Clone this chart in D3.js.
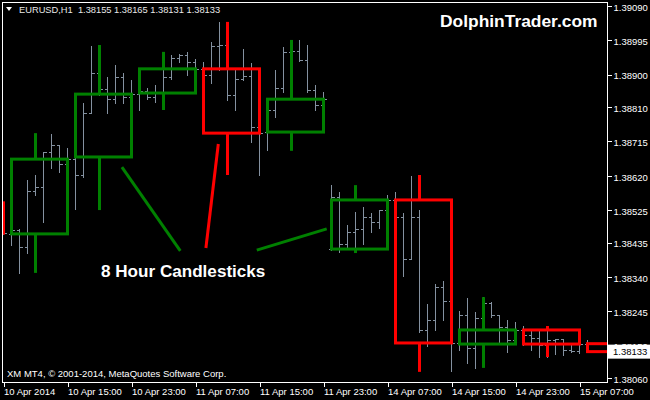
<!DOCTYPE html>
<html><head><meta charset="utf-8">
<script src="https://cdn.jsdelivr.net/npm/d3@7"></script>
<style>body{margin:0;background:#000;overflow:hidden;} svg{display:block;}</style>
</head><body>
<svg id="chart" width="650" height="400"></svg>
<script>
// ---------- DATA ----------
const symbolTitle = "EURUSD,H1";
const lastQuote = ["1.38155", "1.38165", "1.38131", "1.38133"];
const currentPrice = 1.38133;
const siteName = "DolphinTrader.com";
const annotationText = "8 Hour Candlesticks";
const copyrightText = "XM MT4, \u00A9 2001-2014, MetaQuotes Software Corp.";

// hourly bars (bar index 0..73)
const barOpen = [1.38511,1.38459,1.38470,1.38423,1.38578,1.38589,1.38686,1.38705,1.38653,1.38666,
  1.38622,1.38794,1.38905,1.38860,1.38832,1.38893,1.38838,1.38846,1.38855,1.38838,
  1.38849,1.38893,1.38946,1.38954,1.38935,1.38916,1.38899,1.38979,1.38982,1.38844,
  1.38888,1.38896,1.38755,1.38741,1.38802,1.38863,1.38963,1.38965,1.38941,1.38857,
  1.38816,1.38417,1.38561,1.38431,1.38464,1.38473,1.38506,1.38492,1.38525,1.38553,
  1.38506,1.38389,1.38506,1.38193,1.38220,1.38312,1.38273,1.38157,1.38234,1.38143,
  1.38226,1.38268,1.38234,1.38201,1.38165,1.38193,1.38179,1.38171,1.38151,1.38165,
  1.38168,1.38137,1.38135,1.38155];
const barHigh = [1.38539,1.38473,1.38473,1.38608,1.38622,1.38686,1.38736,1.38705,1.38697,1.38672,
  1.38821,1.38979,1.38941,1.38893,1.38927,1.38905,1.38885,1.38885,1.38863,1.38871,
  1.38941,1.38954,1.38957,1.38963,1.38943,1.38935,1.38990,1.39046,1.38996,1.38913,
  1.38971,1.38932,1.38760,1.38816,1.38913,1.38977,1.38996,1.38996,1.38982,1.38871,
  1.38852,1.38594,1.38575,1.38484,1.38520,1.38533,1.38517,1.38525,1.38567,1.38575,
  1.38517,1.38619,1.38525,1.38265,1.38320,1.38329,1.38290,1.38245,1.38281,1.38243,
  1.38284,1.38270,1.38234,1.38220,1.38215,1.38204,1.38193,1.38193,1.38204,1.38168,
  1.38168,1.38151,1.38157,1.38165];
const barLow = [1.38459,1.38428,1.38351,1.38406,1.38567,1.38492,1.38641,1.38630,1.38650,1.38528,
  1.38617,1.38794,1.38844,1.38794,1.38821,1.38821,1.38802,1.38802,1.38832,1.38824,
  1.38830,1.38888,1.38935,1.38899,1.38907,1.38885,1.38877,1.38913,1.38830,1.38802,
  1.38885,1.38713,1.38622,1.38691,1.38783,1.38852,1.38941,1.38938,1.38852,1.38802,
  1.38810,1.38414,1.38409,1.38420,1.38414,1.38431,1.38464,1.38475,1.38520,1.38497,
  1.38342,1.38389,1.38187,1.38149,1.38193,1.38220,1.38079,1.38137,1.38102,1.38088,
  1.38193,1.38229,1.38157,1.38132,1.38160,1.38151,1.38137,1.38118,1.38118,1.38126,
  1.38124,1.38132,1.38129,1.38131];
const barClose = [1.38461,1.38470,1.38423,1.38578,1.38589,1.38686,1.38705,1.38653,1.38666,1.38622,
  1.38794,1.38905,1.38860,1.38832,1.38893,1.38838,1.38846,1.38855,1.38838,1.38849,
  1.38893,1.38946,1.38954,1.38935,1.38916,1.38899,1.38979,1.38982,1.38844,1.38888,
  1.38896,1.38755,1.38738,1.38802,1.38863,1.38963,1.38965,1.38941,1.38857,1.38816,
  1.38832,1.38561,1.38431,1.38464,1.38473,1.38506,1.38492,1.38525,1.38553,1.38506,
  1.38389,1.38506,1.38193,1.38220,1.38312,1.38273,1.38157,1.38234,1.38143,1.38226,
  1.38268,1.38234,1.38201,1.38165,1.38193,1.38179,1.38171,1.38151,1.38165,1.38168,
  1.38137,1.38135,1.38154,1.38133];

// 8-hour candles: first hourly bar index of each candle
const candleStart = [-7, 1, 9, 17, 25, 33, 41, 49, 57, 65, 73];
const candleOpen  = [1.38545,1.38459,1.38672,1.38849,1.38916,1.38741,1.38417,1.38553,1.38154,1.38193,1.38155];
const candleHigh  = [1.38567,1.38738,1.38982,1.38963,1.39046,1.38996,1.38594,1.38622,1.38284,1.38204,1.38165];
const candleLow   = [1.38442,1.38351,1.38525,1.38802,1.38622,1.38689,1.38406,1.38077,1.38088,1.38118,1.38131];
const candleClose = [1.38461,1.38666,1.38846,1.38916,1.38738,1.38832,1.38553,1.38157,1.38193,1.38154,1.38133];

// axis ticks
const yTicks = [1.39090,1.38995,1.38900,1.38810,1.38715,1.38620,1.38525,1.38435,1.38340,1.38245,1.38150,1.38060];
const xTickBars = [0, 8, 16, 24, 32, 40, 48, 56, 64, 72];
const xTickLabels = ["10 Apr 2014","10 Apr 15:00","10 Apr 23:00","11 Apr 07:00","11 Apr 15:00",
  "11 Apr 23:00","14 Apr 07:00","14 Apr 15:00","14 Apr 23:00","15 Apr 07:00"];

// annotation arrows: [barIndex, price] pairs
const arrowFrom = [[14.8, 1.38644], [26.85, 1.38708], [31.66, 1.38414]];
const arrowTo   = [[22.1, 1.38412], [25.3, 1.38420], [40.4, 1.38473]];
const arrowColor = ["#008000", "#ff0000", "#008000"];

// ---------- DRAW ----------
const W = 650, H = 400;
const plot = {left: 2, top: 2, right: 607, bottom: 382};
const svg = d3.select("#chart");
svg.append("rect").attr("width", W).attr("height", H).attr("fill", "#000");

const x = d3.scaleLinear().domain([0, 73]).range([3.5, 587.5]);
const y = d3.scaleLinear().domain([1.38060, 1.39090]).range([378, 6]);

const FONT = "'Liberation Sans', Arial, sans-serif";
const GREEN = "#008000", RED = "#ff0000", GRAY = "#8491a0";

svg.append("clipPath").attr("id", "clip").append("rect")
  .attr("x", plot.left + 1).attr("y", plot.top + 1)
  .attr("width", plot.right - plot.left - 1).attr("height", plot.bottom - plot.top - 1);

const g = svg.append("g").attr("clip-path", "url(#clip)");

// hourly OHLC bars
const bars = d3.range(barOpen.length).map(i => ({i, o: barOpen[i], h: barHigh[i], l: barLow[i], c: barClose[i]}));
const bg = g.append("g").attr("stroke", GRAY).attr("stroke-width", 1).attr("shape-rendering", "crispEdges");
bg.selectAll("line.hl").data(bars).join("line").attr("class", "hl")
  .attr("x1", d => x(d.i)).attr("x2", d => x(d.i))
  .attr("y1", d => Math.round(y(d.h)) ).attr("y2", d => Math.round(y(d.l)) + 1);
bg.selectAll("line.op").data(bars).join("line").attr("class", "op")
  .attr("x1", d => x(d.i) - 3).attr("x2", d => x(d.i))
  .attr("y1", d => Math.round(y(d.o)) + 0.5).attr("y2", d => Math.round(y(d.o)) + 0.5);
bg.selectAll("line.cl").data(bars).join("line").attr("class", "cl")
  .attr("x1", d => x(d.i)).attr("x2", d => x(d.i) + 3)
  .attr("y1", d => Math.round(y(d.c)) + 0.5).attr("y2", d => Math.round(y(d.c)) + 0.5);

// 8-hour candles
const candles = candleStart.map((s, k) => ({s, o: candleOpen[k], h: candleHigh[k], l: candleLow[k], c: candleClose[k]}));
const cg = g.append("g").attr("fill", "none").attr("stroke-width", 3);
candles.forEach(d => {
  const col = d.c >= d.o ? GREEN : RED;
  const top = y(Math.max(d.o, d.c)), bot = y(Math.min(d.o, d.c));
  const x0 = x(d.s), x1 = x(d.s + 7), xm = x(d.s + 3);
  cg.append("rect").attr("x", x0).attr("y", top).attr("width", x1 - x0).attr("height", Math.max(bot - top, 0.5))
    .attr("stroke", col);
  cg.append("line").attr("x1", xm).attr("x2", xm).attr("y1", y(d.h)).attr("y2", top).attr("stroke", col);
  cg.append("line").attr("x1", xm).attr("x2", xm).attr("y1", bot).attr("y2", y(d.l)).attr("stroke", col);
});

// annotation lines
arrowFrom.forEach((p, k) => {
  g.append("line")
    .attr("x1", x(p[0])).attr("y1", y(p[1]))
    .attr("x2", x(arrowTo[k][0])).attr("y2", y(arrowTo[k][1]))
    .attr("stroke", arrowColor[k]).attr("stroke-width", 3);
});

// frame
svg.append("rect").attr("x", plot.left + 0.5).attr("y", plot.top + 0.5)
  .attr("width", plot.right - plot.left).attr("height", plot.bottom - plot.top)
  .attr("fill", "none").attr("stroke", "#fff").attr("stroke-width", 1).attr("shape-rendering", "crispEdges");

// right axis
const yAxis = svg.append("g").attr("transform", `translate(${plot.right + 0.5},0)`)
  .call(d3.axisRight(y).tickValues(yTicks).tickFormat(d3.format(".5f")).tickSize(4).tickPadding(2));
yAxis.select(".domain").remove();
yAxis.selectAll("line").attr("stroke", "#fff").attr("shape-rendering", "crispEdges");
yAxis.selectAll("text").attr("fill", "#fff").attr("font-family", FONT).attr("font-size", 9.5).attr("dy", "0.45em");

// bottom axis
const xAxis = svg.append("g").attr("transform", `translate(0,${plot.bottom + 0.5})`)
  .call(d3.axisBottom(x).tickValues(xTickBars).tickFormat((d, i) => xTickLabels[i]).tickSize(4).tickPadding(2));
xAxis.select(".domain").remove();
xAxis.selectAll("line").attr("stroke", "#fff").attr("shape-rendering", "crispEdges");
xAxis.selectAll("text").attr("fill", "#fff").attr("font-family", FONT).attr("font-size", 9.5)
  .attr("text-anchor", "start");

// current price label
const cy = y(currentPrice);
svg.append("rect").attr("x", plot.right + 1).attr("y", cy - 7).attr("width", W - plot.right - 1).attr("height", 14).attr("fill", "#fff");
svg.append("text").attr("x", plot.right + 6).attr("y", cy).attr("dy", "0.35em")
  .attr("font-family", FONT).attr("font-size", 9.5).attr("fill", "#000").text(d3.format(".5f")(currentPrice));

// title
svg.append("path").attr("d", "M6,7 L12,7 L9,11 Z").attr("fill", "#fff");
svg.append("text").attr("x", 19).attr("y", 13).attr("font-family", FONT).attr("font-size", 9.3)
  .attr("fill", "#e8e8e8").attr("xml:space", "preserve")
  .text(symbolTitle + "  " + lastQuote.join(" "));

// site name
svg.append("text").attr("x", 440).attr("y", 27).attr("font-family", FONT).attr("font-weight", "bold")
  .attr("font-size", 17.4).attr("fill", "#fff").text(siteName);

// annotation label
svg.append("text").attr("x", 101).attr("y", 277).attr("font-family", FONT).attr("font-weight", "bold")
  .attr("font-size", 17.1).attr("fill", "#fff").text(annotationText);

// copyright
svg.append("text").attr("x", 7).attr("y", 377).attr("font-family", FONT).attr("font-size", 9.5)
  .attr("fill", "#fff").text(copyrightText);
</script>
</body></html>
